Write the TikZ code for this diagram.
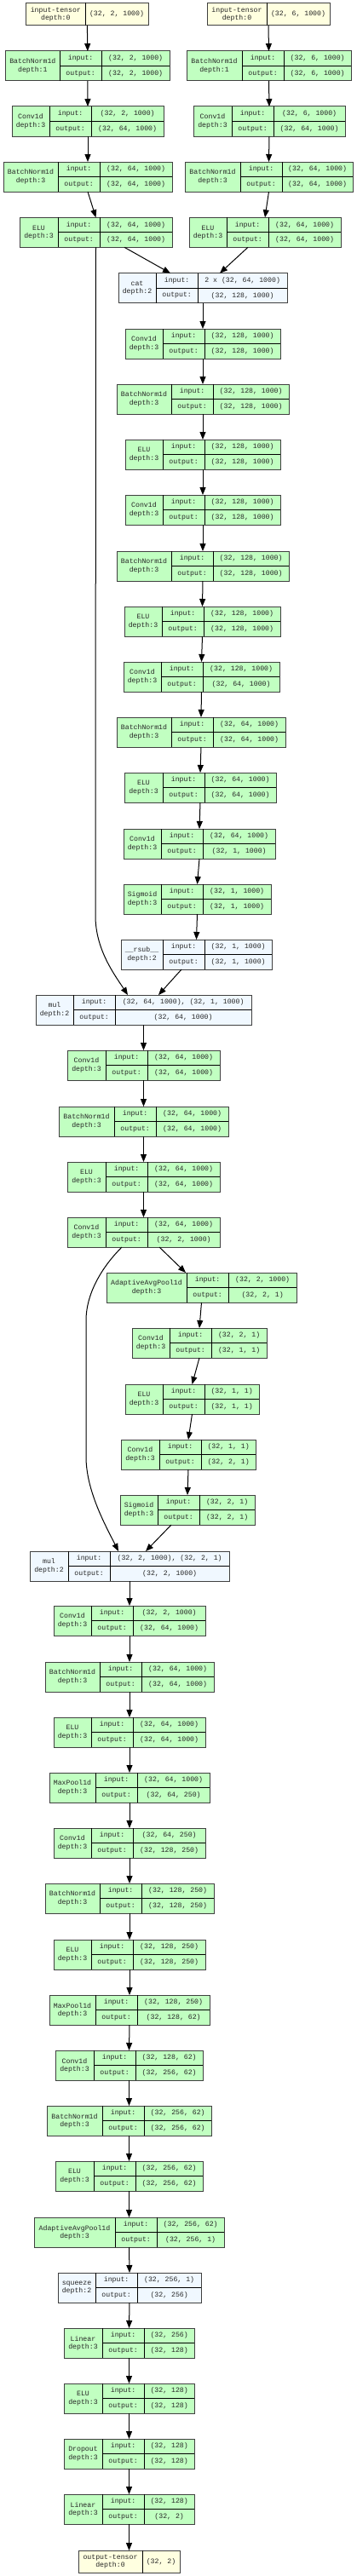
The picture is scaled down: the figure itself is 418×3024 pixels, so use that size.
\documentclass[tikz,border=0pt]{standalone}
\usepackage{fontspec}
\setmonofont{Liberation Mono}
\usetikzlibrary{arrows.meta}

\definecolor{modgreen}{HTML}{C1FFC1}
\definecolor{funblue}{HTML}{F0F8FF}
\definecolor{tensyellow}{HTML}{FFFFE0}

\tikzset{
  modcell/.style={draw=black!75,fill=modgreen,line width=1pt,inner sep=0pt,outer sep=0pt},
  funcell/.style={draw=black!75,fill=funblue,line width=1pt,inner sep=0pt,outer sep=0pt},
  tenscell/.style={draw=black!75,fill=tensyellow,line width=1pt,inner sep=0pt,outer sep=0pt},
  sepline/.style={draw=black,line width=0.8pt},
  celltext/.style={inner sep=0pt,align=center,text=black!85,font=\ttfamily\fontsize{8.2}{9.3}\selectfont},
  link/.style={draw=black,line width=1pt,-{Triangle[length=9pt,width=7pt]}}
}

% layer box: style, name, x left, first divider, x right, y top, label, input, output
\newcommand\layerbox[9]{%
  \node[#1,minimum width={#5pt-#3pt},minimum height=35pt,anchor=north west] (#2) at (#3,#6) {};
  \draw[sepline] (#4,#6) -- (#4,{#6+35});
  \draw[sepline] ({#4+49.3},#6) -- ({#4+49.3},{#6+35});
  \draw[sepline] (#4,{#6+17.5}) -- (#5,{#6+17.5});
  \node[celltext] (#2-l) at ({(#3+#4)/2},{#6+17.5}) {#7};
  \node[celltext] (#2-i) at ({#4+24.65},{#6+8.75}) {input:};
  \node[celltext] (#2-o) at ({#4+24.65},{#6+26.25}) {output:};
  \node[celltext] (#2-in) at ({(#4+49.3+#5)/2},{#6+8.75}) {#8};
  \node[celltext] (#2-out) at ({(#4+49.3+#5)/2},{#6+26.25}) {#9};
}
% tensor box: name, x left, divider, x right, y top, label, shape
\newcommand\tensorbox[7]{%
  \node[tenscell,minimum width={#4pt-#2pt},minimum height=26.7pt,anchor=north west] (#1) at (#2,#5) {};
  \draw[sepline] (#3,#5) -- (#3,{#5+26.7});
  \node[celltext] (#1-l) at ({(#2+#3)/2},{#5+13.35}) {#6};
  \node[celltext] (#1-v) at ({(#3+#4)/2},{#5+13.35}) {#7};
}

\begin{document}
\begin{tikzpicture}[x=1pt,y=-1pt]
\useasboundingbox (0,0) rectangle (418,3024);

\tensorbox{inL}{30.7}{100}{174}{3.3}{input-tensor\\depth:0}{(32, 2, 1000)}
\tensorbox{inR}{243}{313}{387}{3.3}{input-tensor\\depth:0}{(32, 6, 1000)}
\layerbox{modcell}{bnL1}{6.7}{70}{199}{60}{BatchNorm1d\\depth:1}{(32, 2, 1000)}{(32, 2, 1000)}
\layerbox{modcell}{bnR1}{219}{284}{412}{60}{BatchNorm1d\\depth:1}{(32, 6, 1000)}{(32, 6, 1000)}
\layerbox{modcell}{convL1}{14}{58}{192}{125}{Conv1d\\depth:3}{(32, 2, 1000)}{(32, 64, 1000)}
\layerbox{modcell}{convR1}{227}{272}{405}{125}{Conv1d\\depth:3}{(32, 6, 1000)}{(32, 64, 1000)}
\layerbox{modcell}{bnL2}{4}{68}{202}{190}{BatchNorm1d\\depth:3}{(32, 64, 1000)}{(32, 64, 1000)}
\layerbox{modcell}{bnR2}{217}{282}{414}{190}{BatchNorm1d\\depth:3}{(32, 64, 1000)}{(32, 64, 1000)}
\layerbox{modcell}{eluL}{23}{68}{202}{255.3}{ELU\\depth:3}{(32, 64, 1000)}{(32, 64, 1000)}
\layerbox{modcell}{eluR}{222}{266}{400}{255.3}{ELU\\depth:3}{(32, 64, 1000)}{(32, 64, 1000)}
\layerbox{funcell}{cat}{139}{183}{337}{320.7}{cat\\depth:2}{2 x (32, 64, 1000)}{(32, 128, 1000)}
\layerbox{modcell}{conv1}{147}{191}{329}{386}{Conv1d\\depth:3}{(32, 128, 1000)}{(32, 128, 1000)}
\layerbox{modcell}{bn1}{137}{201}{339}{451}{BatchNorm1d\\depth:3}{(32, 128, 1000)}{(32, 128, 1000)}
\layerbox{modcell}{elu1}{147}{191}{329}{516}{ELU\\depth:3}{(32, 128, 1000)}{(32, 128, 1000)}
\layerbox{modcell}{conv2}{147}{191}{329}{581}{Conv1d\\depth:3}{(32, 128, 1000)}{(32, 128, 1000)}
\layerbox{modcell}{bn2}{137}{201}{339}{647}{BatchNorm1d\\depth:3}{(32, 128, 1000)}{(32, 128, 1000)}
\layerbox{modcell}{elu2}{146}{190}{329}{712}{ELU\\depth:3}{(32, 128, 1000)}{(32, 128, 1000)}
\layerbox{modcell}{conv3}{145}{189}{328}{777}{Conv1d\\depth:3}{(32, 128, 1000)}{(32, 64, 1000)}
\layerbox{modcell}{bn3}{137}{201}{335}{842}{BatchNorm1d\\depth:3}{(32, 64, 1000)}{(32, 64, 1000)}
\layerbox{modcell}{elu3}{146}{191}{324}{907}{ELU\\depth:3}{(32, 64, 1000)}{(32, 64, 1000)}
\layerbox{modcell}{conv4}{145}{189}{323}{973}{Conv1d\\depth:3}{(32, 64, 1000)}{(32, 1, 1000)}
\layerbox{modcell}{sig1}{145}{189}{318}{1038}{Sigmoid\\depth:3}{(32, 1, 1000)}{(32, 1, 1000)}
\layerbox{funcell}{rsub}{142}{191}{319}{1103}{\_\_rsub\_\_\\depth:2}{(32, 1, 1000)}{(32, 1, 1000)}
\layerbox{funcell}{mul1}{42}{86}{295}{1168}{mul\\depth:2}{(32, 64, 1000), (32, 1, 1000)}{(32, 64, 1000)}
\layerbox{modcell}{conv5}{79}{124}{258}{1233}{Conv1d\\depth:3}{(32, 64, 1000)}{(32, 64, 1000)}
\layerbox{modcell}{bn5}{69}{134}{268}{1299}{BatchNorm1d\\depth:3}{(32, 64, 1000)}{(32, 64, 1000)}
\layerbox{modcell}{elu5}{79}{124}{258}{1364}{ELU\\depth:3}{(32, 64, 1000)}{(32, 64, 1000)}
\layerbox{modcell}{conv6}{79}{124}{258}{1429}{Conv1d\\depth:3}{(32, 64, 1000)}{(32, 2, 1000)}
\layerbox{modcell}{pool1}{125}{219}{348}{1494}{AdaptiveAvgPool1d\\depth:3}{(32, 2, 1000)}{(32, 2, 1)}
\layerbox{modcell}{conv7}{155}{199}{313}{1559}{Conv1d\\depth:3}{(32, 2, 1)}{(32, 1, 1)}
\layerbox{modcell}{elu7}{147}{191}{304}{1625}{ELU\\depth:3}{(32, 1, 1)}{(32, 1, 1)}
\layerbox{modcell}{conv8}{142}{187}{300}{1690}{Conv1d\\depth:3}{(32, 1, 1)}{(32, 2, 1)}
\layerbox{modcell}{sig2}{141}{185}{299}{1755}{Sigmoid\\depth:3}{(32, 2, 1)}{(32, 2, 1)}
\layerbox{funcell}{mul2}{35}{80}{269}{1821}{mul\\depth:2}{(32, 2, 1000), (32, 2, 1)}{(32, 2, 1000)}
\layerbox{modcell}{conv9}{63}{107}{241}{1885}{Conv1d\\depth:3}{(32, 2, 1000)}{(32, 64, 1000)}
\layerbox{modcell}{bn9}{53}{117}{251}{1951}{BatchNorm1d\\depth:3}{(32, 64, 1000)}{(32, 64, 1000)}
\layerbox{modcell}{elu9}{63}{107}{241}{2016}{ELU\\depth:3}{(32, 64, 1000)}{(32, 64, 1000)}
\layerbox{modcell}{mp1}{58}{112}{246}{2081}{MaxPool1d\\depth:3}{(32, 64, 1000)}{(32, 64, 250)}
\layerbox{modcell}{conv10}{63}{107}{241}{2146}{Conv1d\\depth:3}{(32, 64, 250)}{(32, 128, 250)}
\layerbox{modcell}{bn10}{53}{117}{251}{2211}{BatchNorm1d\\depth:3}{(32, 128, 250)}{(32, 128, 250)}
\layerbox{modcell}{elu10}{63}{107}{241}{2277}{ELU\\depth:3}{(32, 128, 250)}{(32, 128, 250)}
\layerbox{modcell}{mp2}{58}{112}{246}{2342}{MaxPool1d\\depth:3}{(32, 128, 250)}{(32, 128, 62)}
\layerbox{modcell}{conv11}{65}{110}{238}{2407}{Conv1d\\depth:3}{(32, 128, 62)}{(32, 256, 62)}
\layerbox{modcell}{bn11}{55}{120}{248}{2472}{BatchNorm1d\\depth:3}{(32, 256, 62)}{(32, 256, 62)}
\layerbox{modcell}{elu11}{65}{110}{238}{2537}{ELU\\depth:3}{(32, 256, 62)}{(32, 256, 62)}
\layerbox{modcell}{pool2}{40}{135}{263}{2603}{AdaptiveAvgPool1d\\depth:3}{(32, 256, 62)}{(32, 256, 1)}
\layerbox{funcell}{sq}{68}{112}{236}{2668}{squeeze\\depth:2}{(32, 256, 1)}{(32, 256)}
\layerbox{modcell}{lin1}{75}{120}{228}{2733}{Linear\\depth:3}{(32, 256)}{(32, 128)}
\layerbox{modcell}{elu12}{75}{120}{228}{2798}{ELU\\depth:3}{(32, 128)}{(32, 128)}
\layerbox{modcell}{drop}{75}{120}{228}{2863}{Dropout\\depth:3}{(32, 128)}{(32, 128)}
\layerbox{modcell}{lin2}{75}{120}{228}{2928}{Linear\\depth:3}{(32, 128)}{(32, 2)}
\tensorbox{out}{92}{167}{211}{2994}{output-tensor\\depth:0}{(32, 2)}

\coordinate (skipa) at (112,1075);
\coordinate (skipb) at (101,1550);
\coordinate (skipc) at (101,1710);

\draw[link] (inL.south) -- (bnL1.north);
\draw[link] (bnL1.south) -- (convL1.north);
\draw[link] (convL1.south) -- (bnL2.north);
\draw[link] (bnL2.south) -- (eluL.north);
\draw[link] (inR.south) -- (bnR1.north);
\draw[link] (bnR1.south) -- (convR1.north);
\draw[link] (convR1.south) -- (bnR2.north);
\draw[link] (bnR2.south) -- (eluR.north);
\draw[link] ([xshift=33.5pt]eluL.south) -- ([xshift=-38pt]cat.north);
\draw[link] ([xshift=-20pt]eluR.south) -- ([xshift=20pt]cat.north);
\draw[link] (cat.south) -- (conv1.north);
\draw[link] (conv1.south) -- (bn1.north);
\draw[link] (bn1.south) -- (elu1.north);
\draw[link] (elu1.south) -- (conv2.north);
\draw[link] (conv2.south) -- (bn2.north);
\draw[link] (bn2.south) -- (elu2.north);
\draw[link] (elu2.south) -- (conv3.north);
\draw[link] (conv3.south) -- (bn3.north);
\draw[link] (bn3.south) -- (elu3.north);
\draw[link] (elu3.south) -- (conv4.north);
\draw[link] (conv4.south) -- (sig1.north);
\draw[link] (sig1.south) -- (rsub.north);
\draw[link] ([xshift=-17.5pt]rsub.south) -- ([xshift=17.5pt]mul1.north);
\draw[link] (eluL.south) -- (skipa) .. controls (112,1115) and (135,1145) .. ([xshift=-18.5pt]mul1.north);
\draw[link] (mul1.south) -- (conv5.north);
\draw[link] (conv5.south) -- (bn5.north);
\draw[link] (bn5.south) -- (elu5.north);
\draw[link] (elu5.south) -- (conv6.north);
\draw[link] ([xshift=18.5pt]conv6.south) -- ([xshift=-18.5pt]pool1.north);
\draw[link] ([xshift=-25.5pt]conv6.south) .. controls (118,1489) and (101,1520) .. (skipb) -- (skipc) .. controls (101,1750) and (124,1791) .. ([xshift=-13pt]mul2.north);
\draw[link] (pool1.south) -- (conv7.north);
\draw[link] (conv7.south) -- (elu7.north);
\draw[link] (elu7.south) -- (conv8.north);
\draw[link] (conv8.south) -- (sig2.north);
\draw[link] ([xshift=-19pt]sig2.south) -- ([xshift=19pt]mul2.north);
\draw[link] (mul2.south) -- (conv9.north);
\draw[link] (conv9.south) -- (bn9.north);
\draw[link] (bn9.south) -- (elu9.north);
\draw[link] (elu9.south) -- (mp1.north);
\draw[link] (mp1.south) -- (conv10.north);
\draw[link] (conv10.south) -- (bn10.north);
\draw[link] (bn10.south) -- (elu10.north);
\draw[link] (elu10.south) -- (mp2.north);
\draw[link] (mp2.south) -- (conv11.north);
\draw[link] (conv11.south) -- (bn11.north);
\draw[link] (bn11.south) -- (elu11.north);
\draw[link] (elu11.south) -- (pool2.north);
\draw[link] (pool2.south) -- (sq.north);
\draw[link] (sq.south) -- (lin1.north);
\draw[link] (lin1.south) -- (elu12.north);
\draw[link] (elu12.south) -- (drop.north);
\draw[link] (drop.south) -- (lin2.north);
\draw[link] (lin2.south) -- (out.north);
\end{tikzpicture}
\end{document}
